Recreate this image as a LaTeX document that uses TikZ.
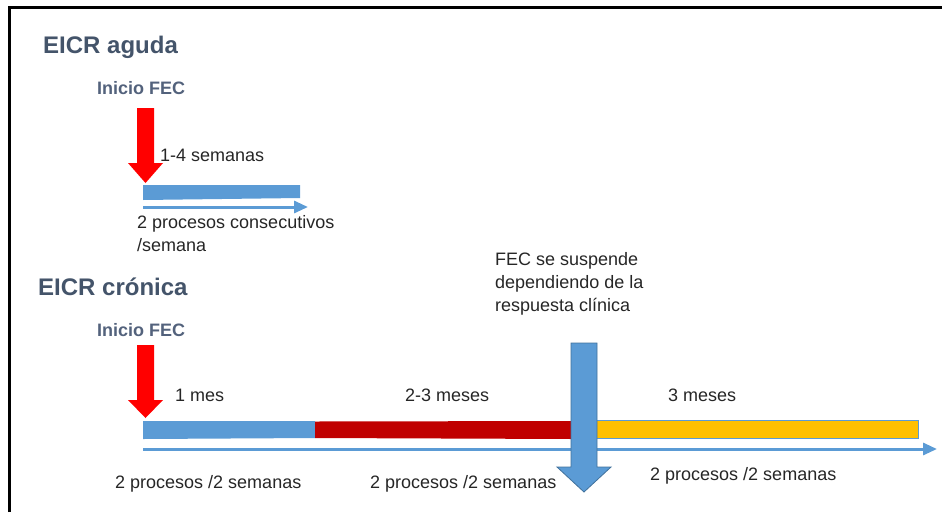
\documentclass[tikz,border=0pt]{standalone}
\usepackage{fontspec}
\setmainfont{Liberation Sans}
\usetikzlibrary{arrows.meta}
\definecolor{titlegray}{HTML}{44546A}
\definecolor{startgray}{HTML}{53627C}
\definecolor{txt}{HTML}{262626}
\definecolor{barblue}{HTML}{5B9BD5}
\definecolor{outlineblue}{HTML}{41719C}
\definecolor{barred}{HTML}{C00000}
\definecolor{baryellow}{HTML}{FFC000}
\definecolor{arrowred}{HTML}{FF0000}
\begin{document}
\begin{tikzpicture}[x=1pt,y=-1pt,
  title/.style={font=\fontsize{24}{28}\selectfont\bfseries, text=titlegray, anchor=west, inner sep=0pt},
  start/.style={font=\fontsize{18}{22}\selectfont\bfseries, text=startgray, anchor=west, inner sep=0pt},
  lbl/.style={font=\fontsize{18}{23}\selectfont, text=txt, anchor=west, inner sep=0pt, align=left},
  redarrow/.style={fill=arrowred, draw=none},
  timeline/.style={line width=3pt, barblue, -{Triangle[length=14pt,width=12pt]}},
  frameline/.style={line width=3pt, black}
]
\useasboundingbox (0,0) rectangle (942,512);

% frame
\draw[frameline] (9,512) -- (9,7) -- (942,7);

% ---- acute ----
\node[title] (tA) at (43,47) {EICR aguda};
\node[start] (sA) at (97,88) {Inicio FEC};
\fill[barblue] (143,185) -- (300,185) -- (300,198) -- (143,200) -- cycle;
\fill[redarrow] (137,108) -- (154,108) -- (154,163) -- (163,163) -- (145.5,183)
  -- (128,163) -- (137,163) -- cycle;
\node[lbl] (wA) at (160,155) {1-4 semanas};
\coordinate (a1) at (143,207);
\coordinate (a2) at (308,207);
\draw[timeline] (a1) -- (a2);
\node[lbl, anchor=north west] (pA) at (137,215) {2 procesos consecutivos\\/semana};

% ---- chronic ----
\node[title] (tC) at (38,287) {EICR crónica};
\node[start] (sC) at (97,330) {Inicio FEC};
\fill[barblue] (143,421) -- (315,421) -- (315,438) -- (143,439) -- cycle;
\fill[barred] (315,421.5) -- (572,421) -- (572,439) -- (315,438) -- cycle;
\draw[fill=baryellow, draw=barblue, line width=1pt] (596,420.5) rectangle (918,438.5);
\fill[redarrow] (137,345) -- (154,345) -- (154,400) -- (163,400) -- (145.5,418)
  -- (128,400) -- (137,400) -- cycle;
\coordinate (c1) at (143,449);
\coordinate (c2) at (937,449);
\draw[timeline] (c1) -- (c2);

% stop arrow
\draw[fill=barblue, draw=outlineblue, line width=0.8pt]
  (571,343) -- (597,343) -- (597,467) -- (611,467) -- (584,492)
  -- (557,467) -- (571,467) -- cycle;
\node[lbl, anchor=north west] (stop) at (495,252)
  {FEC se suspende\\dependiendo de la\\respuesta clínica};

\node[lbl] (d1) at (175,395) {1 mes};
\node[lbl] (d2) at (405,395) {2-3 meses};
\node[lbl] (d3) at (668,395) {3 meses};
\node[lbl] (p1) at (115,484) {2 procesos /2 semanas};
\node[lbl] (p2) at (370,484) {2 procesos /2 semanas};
\node[lbl] (p3) at (650,476) {2 procesos /2 semanas};
\end{tikzpicture}
\end{document}
